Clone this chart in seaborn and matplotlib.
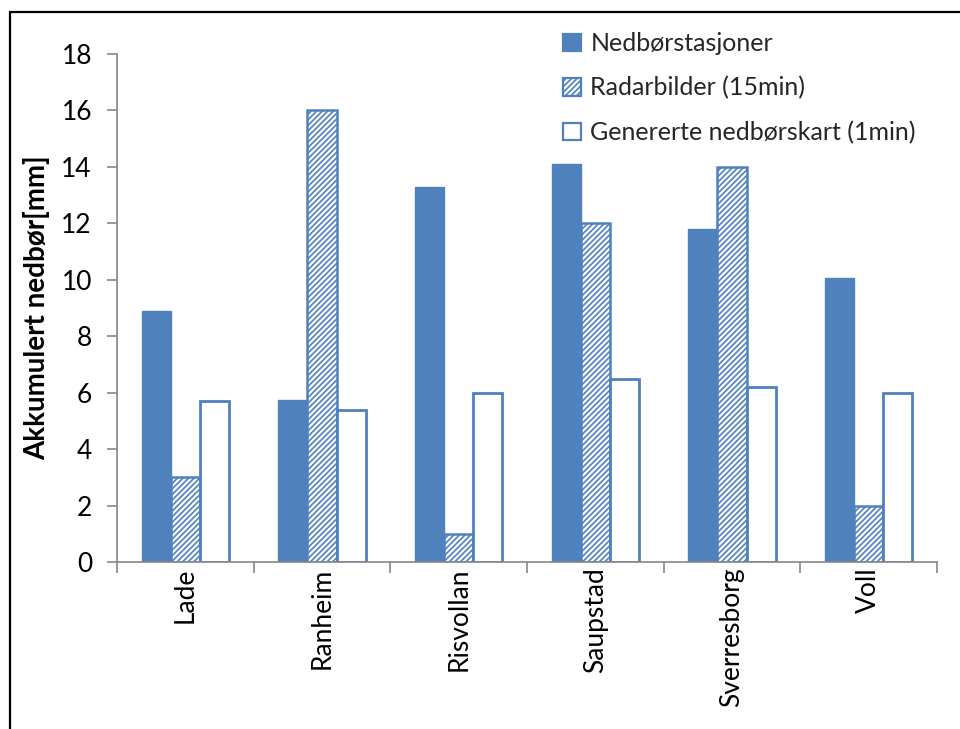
import matplotlib
matplotlib.use("Agg")
import matplotlib.pyplot as plt
from matplotlib.lines import Line2D
from matplotlib.patches import Patch
import seaborn as sns
import pandas as pd

stations = ["Lade", "Ranheim", "Risvollan", "Saupstad", "Sverresborg", "Voll"]
series_names = ["Nedbørstasjoner", "Radarbilder (15min)", "Genererte nedbørskart (1min)"]
gauge = [8.9, 5.75, 13.3, 14.1, 11.8, 10.05]
radar = [3.0, 16.0, 1.0, 12.0, 14.0, 2.0]
generated = [5.7, 5.4, 6.0, 6.5, 6.2, 6.0]
y_ticks = [0, 2, 4, 6, 8, 10, 12, 14, 16, 18]
y_label = "Akkumulert nedbør[mm]"

blue = "#4F81BD"
grey = "#868686"

df = pd.DataFrame({
    "stasjon": stations * 3,
    "serie": [series_names[0]] * 6 + [series_names[1]] * 6 + [series_names[2]] * 6,
    "verdi": gauge + radar + generated,
})

sns.set_theme(style="white")
plt.rcParams["font.family"] = ["Lato", "DejaVu Sans"]
plt.rcParams["hatch.linewidth"] = 1.2
plt.rcParams["hatch.color"] = blue

fig = plt.figure(figsize=(9.6, 7.29), dpi=100)
ax = fig.add_axes([117 / 960, 1 - 562 / 729, (937 - 117) / 960, (562 - 54) / 729])

sns.barplot(data=df, x="stasjon", y="verdi", hue="serie", order=stations,
            hue_order=series_names, palette=[blue] * 3, width=0.64, gap=0,
            errorbar=None, legend=False, ax=ax)

styles = [
    dict(facecolor=blue, edgecolor=blue, hatch=None, linewidth=1.0),
    dict(facecolor="white", edgecolor=blue, hatch="//////", linewidth=1.8),
    dict(facecolor="white", edgecolor=blue, hatch=None, linewidth=2.0),
]
for cont, st in zip(ax.containers, styles):
    for bar in cont:
        bar.set_facecolor(st["facecolor"])
        bar.set_edgecolor(st["edgecolor"])
        bar.set_linewidth(st["linewidth"])
        if st["hatch"]:
            bar.set_hatch(st["hatch"])

ax.set_ylim(0, 18)
ax.set_yticks(y_ticks)
ax.set_xlim(-0.5, len(stations) - 0.5)
ax.set_xticks(range(len(stations)))
ax.set_xticklabels(stations, rotation=90, fontsize=19, color="black")
ax.set_xticks([i - 0.5 for i in range(len(stations) + 1)], minor=True)
ax.tick_params(axis="x", which="major", length=0, pad=4)
ax.tick_params(axis="x", which="minor", length=8, width=1.2, color=grey, direction="out", bottom=True)
ax.tick_params(axis="y", length=7, width=1.2, color=grey, direction="out", left=True,
               labelsize=19, labelcolor="black", pad=11)
ax.set_xlabel("")
ax.set_ylabel(y_label, fontsize=20, fontweight="bold", color="black", labelpad=8)

for side in ["top", "right"]:
    ax.spines[side].set_visible(False)
for side in ["left", "bottom"]:
    ax.spines[side].set_color(grey)
    ax.spines[side].set_linewidth(1.2)

handles = [Patch(facecolor=st["facecolor"], edgecolor=st["edgecolor"], hatch=st["hatch"],
                 linewidth=1.6) for st in styles]
fig.legend(handles, series_names, loc="upper left", bbox_to_anchor=(553 / 960, 1 - 22 / 729),
           frameon=False, fontsize=18, handlelength=0.7, handleheight=0.7,
           handletextpad=0.4, labelspacing=0.85, borderaxespad=0)

# outer frame on the left and top edges
fig.add_artist(Line2D([9.5 / 960, 9.5 / 960], [0, 1 - 12 / 729], transform=fig.transFigure,
                      color="black", linewidth=1.6))
fig.add_artist(Line2D([9.5 / 960, 1], [1 - 12 / 729, 1 - 12 / 729], transform=fig.transFigure,
                      color="black", linewidth=1.6))

fig.savefig("out.png", dpi=100, facecolor="white")
